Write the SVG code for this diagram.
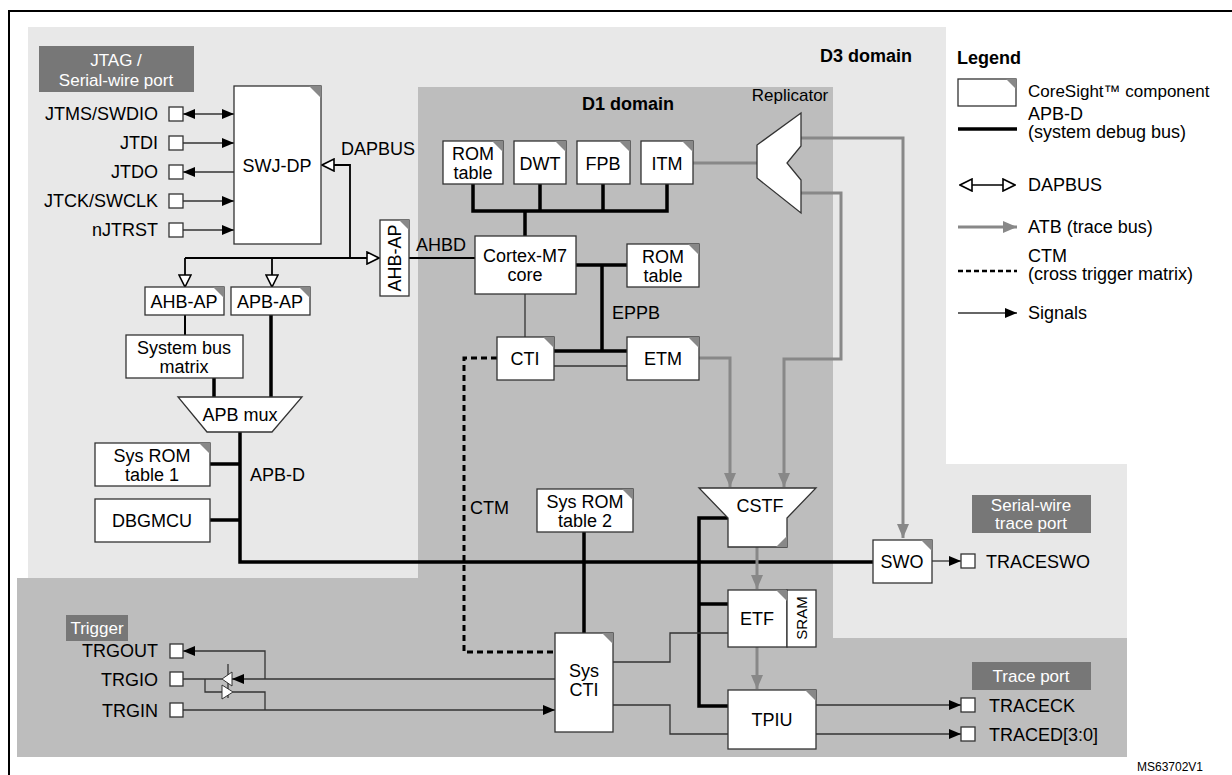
<svg xmlns="http://www.w3.org/2000/svg" width="1232" height="775" viewBox="0 0 1232 775">
<style>
text{font-family:"Liberation Sans",Arial,sans-serif;font-size:18px;fill:#000}
.c{text-anchor:middle}.r{text-anchor:end}.b{font-weight:bold;font-size:18px}
.w{fill:#fff}
.box{fill:#fff;stroke:#333;stroke-width:1.3}
.cn{fill:#888}
.thick{stroke:#000;stroke-width:3.5;fill:none}
.thin{stroke:#333;stroke-width:1.3;fill:none}
.atb{stroke:#888;stroke-width:3;fill:none}
.ctm{stroke:#000;stroke-width:3;stroke-dasharray:6,4;fill:none}
.pin{fill:#fff;stroke:#333;stroke-width:1.3}
.lab{fill:#777}
</style>
<defs>
<marker id="sig" viewBox="0 0 12 10" refX="12" refY="5" markerWidth="12" markerHeight="10" markerUnits="userSpaceOnUse" orient="auto-start-reverse"><path d="M0,0L12,5L0,10z" fill="#000"/></marker>
<marker id="gar" viewBox="0 0 14 12" refX="14" refY="6" markerWidth="14" markerHeight="12" markerUnits="userSpaceOnUse" orient="auto-start-reverse"><path d="M0,0L14,6L0,12z" fill="#888"/></marker>
<marker id="dap" viewBox="0 0 14 14" refX="13" refY="7" markerWidth="14" markerHeight="14" markerUnits="userSpaceOnUse" orient="auto-start-reverse"><path d="M1,1L13,7L1,13z" fill="#fff" stroke="#000" stroke-width="1.6"/></marker>
</defs>
<rect width="1232" height="775" fill="#fff"/>
<g id="background">
<rect x="28" y="27" width="918" height="551" fill="#e8e8e8"/>
<rect x="17" y="578" width="1110" height="179" fill="#bdbdbd"/>
<rect x="833" y="464" width="294" height="174" fill="#e8e8e8"/>
<rect x="418" y="87" width="415" height="551" fill="#bdbdbd"/>
<rect x="9" y="11" width="1240" height="780" fill="none" stroke="#000" stroke-width="2"/>
</g>
<g id="labels">
<rect x="39" y="46" width="155" height="46" class="lab"/>
<text x="116" y="66" class="c w" style="font-size:17px">JTAG /</text>
<text x="116" y="86" class="c w" style="font-size:17px">Serial-wire port</text>
<text x="866" y="62" class="c b">D3 domain</text>
<text x="628" y="110" class="c b">D1 domain</text>
<text x="790" y="101" class="c" style="font-size:17px">Replicator</text>
<text x="341" y="155">DAPBUS</text>
<text x="416" y="251">AHBD</text>
<text x="612" y="319">EPPB</text>
<text x="250" y="481">APB-D</text>
<text x="470" y="514">CTM</text>
<rect x="66" y="615" width="62" height="26" class="lab"/>
<text x="97" y="634" class="c w" style="font-size:17px">Trigger</text>
<rect x="972" y="495" width="119" height="38" class="lab"/>
<text x="1031" y="511" class="c w" style="font-size:17px">Serial-wire</text>
<text x="1031" y="529" class="c w" style="font-size:17px">trace port</text>
<rect x="972" y="662" width="119" height="28" class="lab"/>
<text x="1031" y="682" class="c w" style="font-size:17px">Trace port</text>
<text x="1137" y="771" style="font-size:12px">MS63702V1</text>
</g>
<g id="connectors">
<line x1="183" y1="114" x2="234" y2="114" class="thin" marker-start="url(#sig)" marker-end="url(#sig)"/>
<line x1="183" y1="143" x2="234" y2="143" class="thin" marker-end="url(#sig)"/>
<line x1="234" y1="172" x2="183" y2="172" class="thin" marker-end="url(#sig)"/>
<line x1="183" y1="201" x2="234" y2="201" class="thin" marker-end="url(#sig)"/>
<line x1="183" y1="230" x2="234" y2="230" class="thin" marker-end="url(#sig)"/>
<path d="M350,258V165H322" stroke="#000" stroke-width="1.8" fill="none" marker-end="url(#dap)"/>
<path d="M185,258H379" stroke="#000" stroke-width="1.8" fill="none" marker-end="url(#dap)"/>
<path d="M185,258V287" stroke="#000" stroke-width="1.8" fill="none" marker-end="url(#dap)"/>
<path d="M272,258V287" stroke="#000" stroke-width="1.8" fill="none" marker-end="url(#dap)"/>
<line x1="409" y1="258" x2="475" y2="258" stroke="#000" stroke-width="2"/>
<line x1="185" y1="315" x2="185" y2="335" stroke="#000" stroke-width="2"/>
<line x1="214" y1="378" x2="214" y2="397" class="thick"/>
<line x1="271" y1="315" x2="271" y2="397" class="thick"/>
<path d="M240,432V562H873" class="thick"/>
<line x1="210" y1="464" x2="240" y2="464" class="thick"/>
<line x1="210" y1="520" x2="240" y2="520" class="thick"/>
<path d="M473,184V211H667V184M540,184V211M603,184V211M525,211V236" class="thick"/>
<line x1="576" y1="265" x2="627" y2="265" class="thick"/>
<path d="M602,265V351" class="thick"/>
<line x1="554" y1="351" x2="627" y2="351" class="thick"/>
<line x1="554" y1="366" x2="627" y2="366" class="thin"/>
<line x1="525" y1="294" x2="525" y2="337" class="thin"/>
<path d="M497,358H464V652H555" class="ctm"/>
<line x1="693" y1="163" x2="757" y2="163" class="atb"/>
<path d="M801,138H903V538" class="atb" marker-end="url(#gar)"/>
<path d="M801,193H841V359H784V487" class="atb" marker-end="url(#gar)"/>
<path d="M699,358H730V487" class="atb" marker-end="url(#gar)"/>
<line x1="757" y1="547" x2="757" y2="589" class="atb" marker-end="url(#gar)"/>
<line x1="757" y1="647" x2="757" y2="689" class="atb" marker-end="url(#gar)"/>
<path d="M728,518H699V706H728M699,604H728" class="thick"/>
<line x1="584" y1="532" x2="584" y2="633" class="thick"/>
<path d="M597,662H670V633H728" class="thin"/>
<path d="M597,705H670V734H728" class="thin"/>
<line x1="932" y1="561" x2="961" y2="561" class="thin" marker-end="url(#sig)"/>
<line x1="816" y1="705" x2="961" y2="705" class="thin" marker-end="url(#sig)"/>
<line x1="816" y1="734" x2="961" y2="734" class="thin" marker-end="url(#sig)"/>
<path d="M265,679V651H183" class="thin" marker-end="url(#sig)"/>
<line x1="555" y1="679" x2="232" y2="679" class="thin" marker-end="url(#sig)"/>
<line x1="222" y1="679" x2="183" y2="679" class="thin"/>
<path d="M205,679V692H222" class="thin"/>
<path d="M233,692H265V710" class="thin"/>
<line x1="183" y1="710" x2="555" y2="710" class="thin" marker-end="url(#sig)"/>
<line x1="228" y1="664" x2="228" y2="698" class="thin"/>
<polygon points="232,672 222,679 232,686" fill="#fff" stroke="#333" stroke-width="1"/>
<polygon points="222,685 233,692 222,699" fill="#fff" stroke="#333" stroke-width="1"/>
</g>
<g id="pins">
<rect x="169" y="107" width="14" height="14" class="pin"/>
<rect x="169" y="136" width="14" height="14" class="pin"/>
<rect x="169" y="165" width="14" height="14" class="pin"/>
<rect x="169" y="194" width="14" height="14" class="pin"/>
<rect x="169" y="223" width="14" height="14" class="pin"/>
<text x="158" y="120" class="r">JTMS/SWDIO</text>
<text x="158" y="149" class="r">JTDI</text>
<text x="158" y="178" class="r">JTDO</text>
<text x="158" y="207" class="r">JTCK/SWCLK</text>
<text x="158" y="236" class="r">nJTRST</text>
<rect x="170" y="644" width="13" height="14" class="pin"/>
<rect x="170" y="672" width="13" height="14" class="pin"/>
<rect x="170" y="703" width="13" height="14" class="pin"/>
<text x="158" y="657" class="r">TRGOUT</text>
<text x="158" y="686" class="r">TRGIO</text>
<text x="158" y="717" class="r">TRGIN</text>
<rect x="961" y="554" width="14" height="14" class="pin"/>
<rect x="961" y="698" width="14" height="14" class="pin"/>
<rect x="961" y="727" width="14" height="14" class="pin"/>
<text x="986" y="568">TRACESWO</text>
<text x="989" y="712">TRACECK</text>
<text x="989" y="741">TRACED[3:0]</text>
</g>
<g id="swjdp"><rect x="234" y="86" width="87" height="158" class="box"/><polygon points="309,86 321,86 321,98" class="cn"/><text x="277" y="172" class="c">SWJ-DP</text></g>
<g id="ahbap-v"><rect x="380" y="220" width="29" height="76" class="box"/><polygon points="399,220 409,220 409,230" class="cn"/><text transform="translate(401,258) rotate(-90)" class="c">AHB-AP</text></g>
<g id="ahbap"><rect x="145" y="287" width="79" height="28" class="box"/><polygon points="213,287 224,287 224,298" class="cn"/><text x="184" y="308" class="c">AHB-AP</text></g>
<g id="apbap"><rect x="231" y="287" width="79" height="28" class="box"/><polygon points="299,287 310,287 310,298" class="cn"/><text x="270" y="308" class="c">APB-AP</text></g>
<g id="sysbus"><rect x="126" y="335" width="117" height="43" class="box"/><text x="184" y="354" class="c">System bus</text><text x="184" y="373" class="c">matrix</text></g>
<g id="apbmux"><polygon points="178,397 302,397 272,432 207,432" class="box"/><text x="240" y="421" class="c">APB mux</text></g>
<g id="sysrom1"><rect x="95" y="443" width="115" height="43" class="box"/><polygon points="199,443 210,443 210,454" class="cn"/><text x="152" y="462" class="c">Sys ROM</text><text x="152" y="481" class="c">table 1</text></g>
<g id="dbgmcu"><rect x="95" y="499" width="115" height="43" class="box"/><text x="152" y="527" class="c">DBGMCU</text></g>
<g id="romtable1"><rect x="443" y="141" width="60" height="43" class="box"/><polygon points="492,141 503,141 503,152" class="cn"/><text x="473" y="160" class="c">ROM</text><text x="473" y="179" class="c">table</text></g>
<g id="dwt"><rect x="514" y="141" width="52" height="43" class="box"/><polygon points="555,141 566,141 566,152" class="cn"/><text x="540" y="170" class="c">DWT</text></g>
<g id="fpb"><rect x="577" y="141" width="53" height="43" class="box"/><polygon points="619,141 630,141 630,152" class="cn"/><text x="603" y="170" class="c">FPB</text></g>
<g id="itm"><rect x="641" y="141" width="52" height="43" class="box"/><polygon points="682,141 693,141 693,152" class="cn"/><text x="667" y="170" class="c">ITM</text></g>
<g id="cortex"><rect x="475" y="236" width="101" height="58" class="box"/><text x="525" y="262" class="c">Cortex-M7</text><text x="525" y="281" class="c">core</text></g>
<g id="romtable2"><rect x="627" y="244" width="72" height="43" class="box"/><polygon points="688,244 699,244 699,255" class="cn"/><text x="663" y="263" class="c">ROM</text><text x="663" y="282" class="c">table</text></g>
<g id="cti"><rect x="497" y="337" width="57" height="43" class="box"/><polygon points="543,337 554,337 554,348" class="cn"/><text x="525" y="365" class="c">CTI</text></g>
<g id="etm"><rect x="627" y="337" width="72" height="43" class="box"/><polygon points="688,337 699,337 699,348" class="cn"/><text x="663" y="365" class="c">ETM</text></g>
<g id="replicator"><polygon points="801,113 757,145 757,178 801,213 801,180 787,163 801,146" class="box"/></g>
<g id="sysrom2"><rect x="537" y="489" width="96" height="43" class="box"/><polygon points="622,489 633,489 633,500" class="cn"/><text x="585" y="508" class="c">Sys ROM</text><text x="585" y="527" class="c">table 2</text></g>
<g id="cstf"><polygon points="699,488 816,488 787,518 787,547 728,547 728,518" class="box"/><polygon points="787,536 787,547 776,547" class="cn"/><text x="760" y="512" class="c">CSTF</text></g>
<g id="etf"><rect x="728" y="590" width="59" height="57" class="box"/><rect x="787" y="590" width="29" height="57" class="box"/><polygon points="776,590 787,590 787,601" class="cn"/><text x="757" y="625" class="c">ETF</text><text transform="translate(807,618) rotate(-90)" class="c" style="font-size:15px">SRAM</text></g>
<g id="tpiu"><rect x="728" y="690" width="88" height="59" class="box"/><polygon points="805,690 816,690 816,701" class="cn"/><text x="772" y="726" class="c">TPIU</text></g>
<g id="swo"><rect x="873" y="540" width="59" height="43" class="box"/><polygon points="921,540 932,540 932,551" class="cn"/><text x="902" y="568" class="c">SWO</text></g>
<g id="sysCTI"><rect x="555" y="633" width="58" height="99" class="box"/><polygon points="602,633 613,633 613,644" class="cn"/><text x="584" y="677" class="c">Sys</text><text x="584" y="696" class="c">CTI</text></g>
<g id="legend">
<text x="957" y="64" class="b">Legend</text>
<rect x="958" y="79" width="58" height="27" class="box"/><polygon points="1006,79 1016,79 1016,89" class="cn"/>
<text x="1028" y="97" style="font-size:17px">CoreSight™ component</text>
<line x1="958" y1="129" x2="1017" y2="129" class="thick"/>
<text x="1028" y="120">APB-D</text><text x="1028" y="138">(system debug bus)</text>
<line x1="960" y1="185" x2="1015" y2="185" stroke="#000" stroke-width="1.5" marker-start="url(#dap)" marker-end="url(#dap)"/>
<text x="1028" y="191">DAPBUS</text>
<line x1="958" y1="227" x2="1017" y2="227" class="atb" marker-end="url(#gar)"/>
<text x="1028" y="233">ATB (trace bus)</text>
<line x1="958" y1="271" x2="1017" y2="271" stroke="#000" stroke-width="2.5" stroke-dasharray="5,3"/>
<text x="1028" y="262">CTM</text><text x="1028" y="280">(cross trigger matrix)</text>
<line x1="958" y1="313" x2="1017" y2="313" class="thin" marker-end="url(#sig)"/>
<text x="1028" y="319">Signals</text>
</g>
</svg>
